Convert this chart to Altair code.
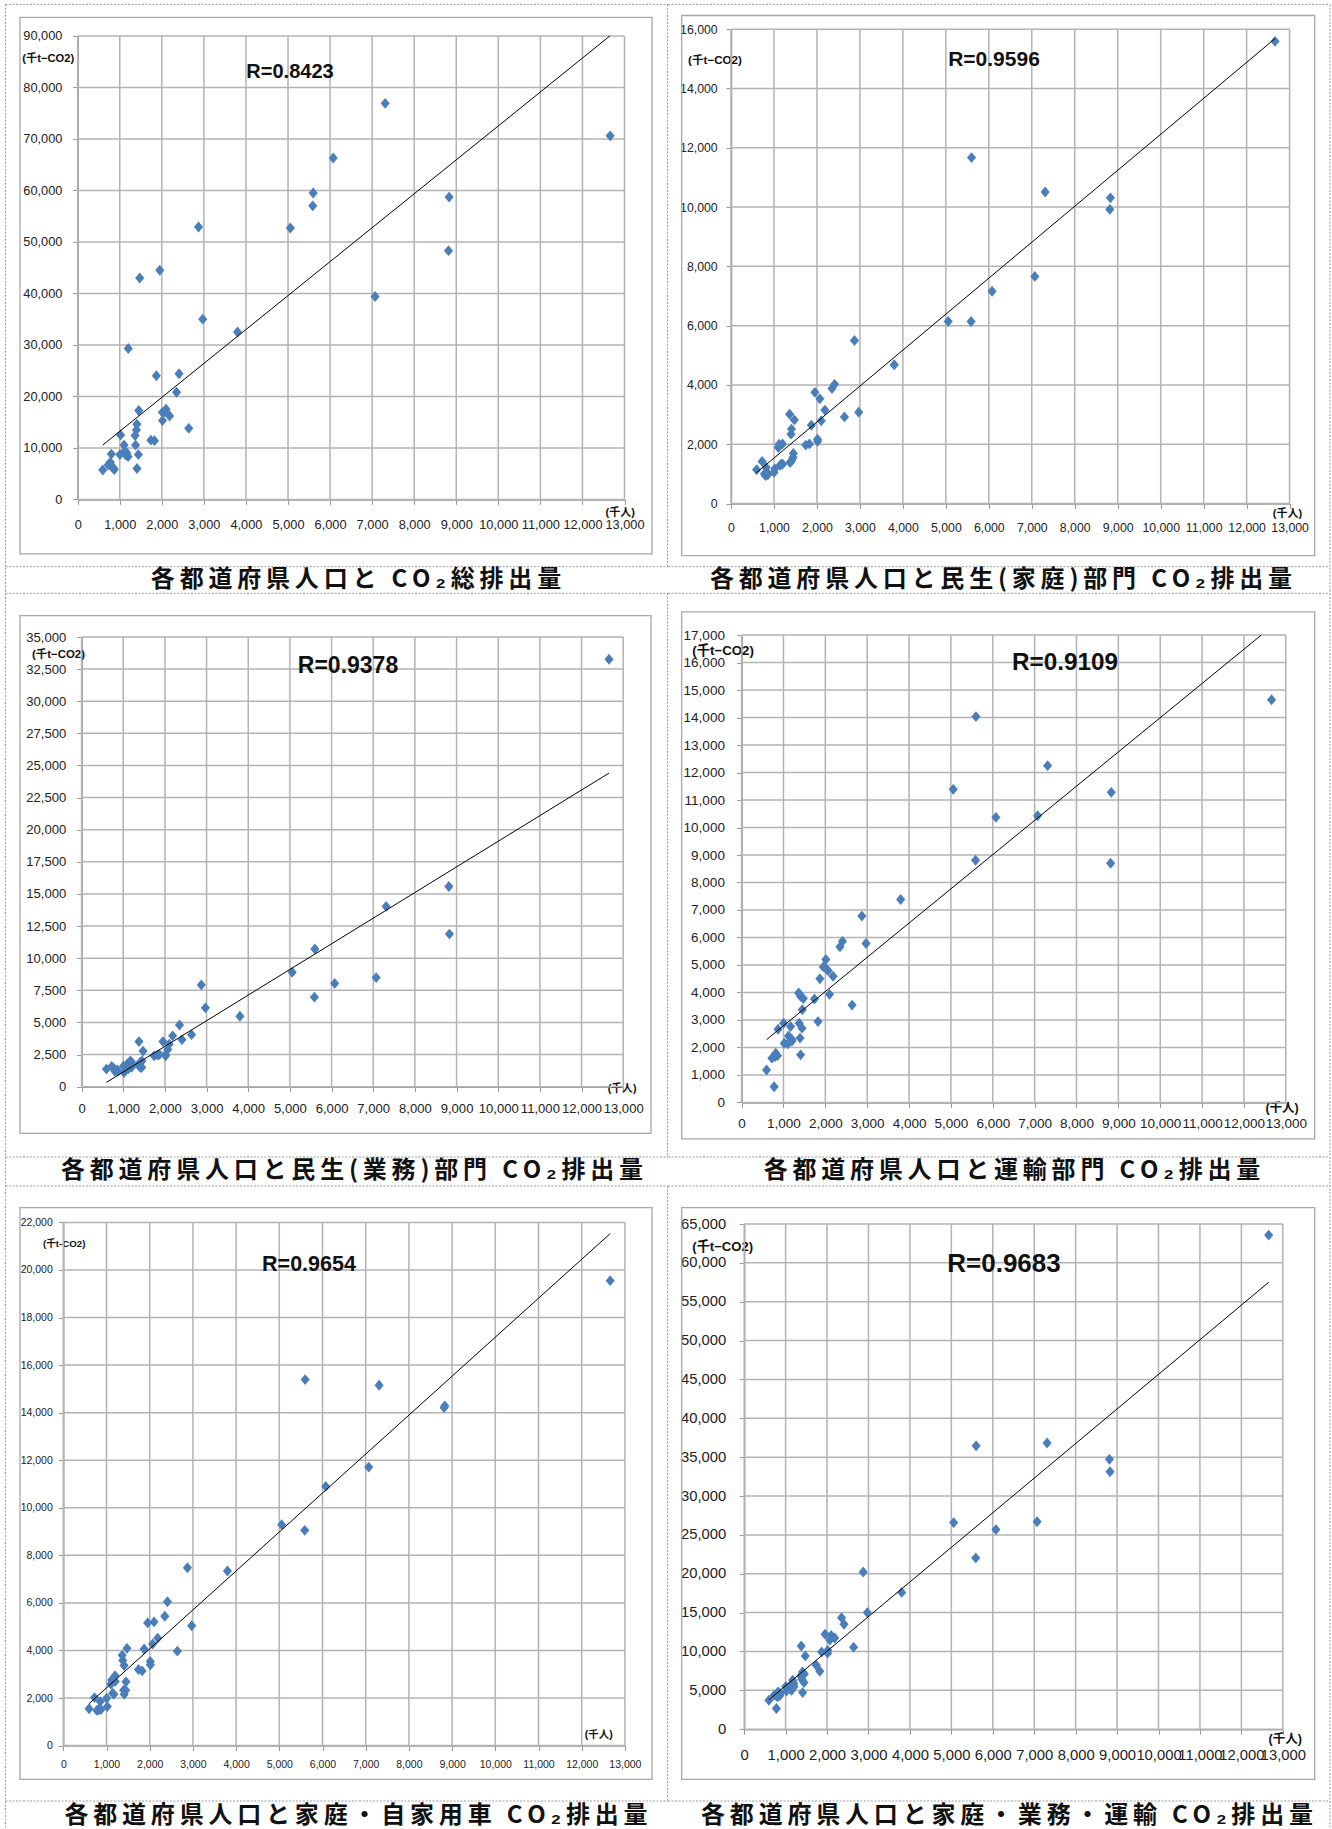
import altair as alt
import numpy as np
import pandas as pd

# ---------------------------------------------------------------- data
prefectures = ["北海道", "青森", "岩手", "宮城", "秋田", "山形", "福島", "茨城", "栃木", "群馬",
               "埼玉", "千葉", "東京", "神奈川", "新潟", "富山", "石川", "福井", "山梨", "長野",
               "岐阜", "静岡", "愛知", "三重", "滋賀", "京都", "大阪", "兵庫", "奈良", "和歌山",
               "鳥取", "島根", "岡山", "広島", "山口", "徳島", "香川", "愛媛", "高知", "福岡",
               "佐賀", "長崎", "熊本", "大分", "宮崎", "鹿児島", "沖縄"]

# population (thousand people)
population = [5598, 1407, 1364, 2350, 1121, 1198, 2067, 2972, 2013, 2016,
              7070, 6075, 12660, 8830, 2410, 1103, 1170, 816, 871, 2185,
              2100, 3800, 7310, 1870, 1396, 2640, 8815, 5588, 1410, 1019,
              596, 723, 1952, 2873, 1474, 800, 1004, 1450, 777, 5055,
              856, 1443, 1825, 1202, 1143, 1740, 1376]

# CO2 emissions (thousand t-CO2)
co2_total = [59500, 14600, 12400, 20800, 9400, 8300, 17000, 35000, 16900, 15300,
             39400, 66300, 70600, 58700, 24400, 10550, 9000, 6300, 5800, 16200,
             17500, 32500, 76900, 24000, 13500, 13800, 48300, 57000, 6000, 12500,
             5700, 6700, 44500, 52900, 43000, 8800, 8700, 17260, 7200, 52700,
             6000, 8700, 11400, 29300, 8600, 11500, 10550]

co2_household = [11670, 2510, 3010, 3880, 2000, 2010, 3530, 3080, 2170, 2100,
                 7660, 7160, 15590, 10310, 4020, 1890, 1330, 1220, 1000, 3150,
                 2790, 4680, 10510, 2640, 2340, 2920, 9920, 6140, 1450, 1170,
                 1140, 1420, 3750, 5500, 2820, 940, 1050, 1690, 1000, 6140,
                 970, 1550, 2010, 1330, 1290, 1970, 1380]

co2_commercial = [10720, 1900, 1700, 4800, 1400, 1500, 2900, 6140, 2500, 2400,
                  8490, 8040, 33270, 11880, 3660, 1800, 2000, 1300, 1200, 3960,
                  3300, 5480, 14030, 2500, 1600, 4050, 15580, 6970, 1500, 1100,
                  1370, 1580, 3510, 7920, 2770, 1200, 1600, 2000, 1400, 8910,
                  1300, 1500, 2470, 1900, 1500, 2400, 3510]

co2_transport = [14035, 3860, 3980, 5660, 2420, 2300, 4790, 5780, 5200, 4870,
                 10430, 10370, 14650, 11280, 5860, 2130, 2760, 1790, 2660, 4590,
                 3930, 7380, 12250, 4500, 2340, 3540, 8700, 8810, 1730, 2150,
                 1180, 1610, 4930, 6780, 3780, 1670, 2880, 3370, 570, 11390,
                 1700, 2700, 2940, 2230, 2200, 3760, 2880]

co2_household_car = [15390, 3370, 3800, 5440, 2760, 2940, 4270, 5040, 3540, 3400,
                     11710, 10900, 19550, 14280, 6050, 2590, 2160, 1500, 1520, 4520,
                     5200, 7340, 15150, 4060, 2330, 3970, 14210, 9050, 2160, 1640,
                     1550, 2020, 5160, 7480, 4090, 1500, 1990, 2680, 1480, 9290,
                     1850, 2330, 3140, 2700, 2200, 3200, 3580]

co2_hh_com_trans = [36460, 7370, 6850, 14350, 5660, 5870, 11470, 15000, 9780, 10150,
                    26690, 25680, 63570, 33130, 13500, 5230, 6300, 4800, 4600, 11740,
                    12080, 17600, 36830, 9940, 6400, 10540, 34720, 22040, 4710, 4900,
                    3730, 4370, 12210, 20220, 9430, 4160, 5500, 7100, 2660, 26580,
                    4300, 6000, 7460, 5500, 5000, 8230, 10710]

r_labels = ["R=0.8423", "R=0.9596", "R=0.9378", "R=0.9109", "R=0.9654", "R=0.9683"]
y_max = [90000, 16000, 35000, 17000, 22000, 65000]
y_step = [10000, 2000, 2500, 1000, 2000, 5000]
x_max = 13000
x_ticks = list(range(0, x_max + 1, 1000))

captions = ["各都道府県人口と CO₂総排出量",
            "各都道府県人口と民生(家庭)部門 CO₂排出量",
            "各都道府県人口と民生(業務)部門 CO₂排出量",
            "各都道府県人口と運輸部門 CO₂排出量",
            "各都道府県人口と家庭・自家用車 CO₂排出量",
            "各都道府県人口と家庭・業務・運輸 CO₂排出量"]

y_units = ["(千t−CO2)", "(千t−CO2)", "(千t−CO2)", "(千t−CO2)", "(千t-CO2)", "(千t−CO2)"]
x_unit = "(千人)"

series = [co2_total, co2_household, co2_commercial,
          co2_transport, co2_household_car, co2_hh_com_trans]

# ---------------------------------------------------------------- styling
NUM_FONT = "Liberation Sans Narrow, Arial Narrow, Liberation Sans, Noto Sans CJK JP, sans-serif"
JP_FONT = "Noto Sans CJK JP, sans-serif"
BLUE = "#4a7ebb"
GRID = "#b3b3b3"
AXIS = "#999999"
FRAME = "#a8a8a8"
DASH = "#9a9a9a"
DIAMOND = "M0,-1L0.84,0L0,1L-0.84,0Z"

# each cell of the 2x3 page grid: size, plot rectangle inside it, text placement
cells = [
    dict(w=668, h=590, x0=77.7, x1=624.5, yt=35.9, yb=499.4,
         fs=12.8, ylp=10.8, xlp=13.8, ufs=11.2, ux=-30, uy=58.9, kfs=11, kx=619.7, ky=13,
         rfs=20, rx=290, ry=72, cap=(356, 580), frame=(20, 17.4, 652, 553.8)),
    dict(w=664, h=590, x0=63, x1=621.6, yt=29.2, yb=503.5,
         fs=12.3, ylp=8.8, xlp=12.5, ufs=11.6, ux=-16.5, uy=60.2, kfs=11, kx=619, ky=10,
         rfs=21, rx=326, ry=60.3, cap=(333, 580), frame=(13.7, 15.5, 646.7, 555.7)),
    dict(w=668, h=595, x0=81.6, x1=623.2, yt=47, yb=496.7,
         fs=13.1, ylp=10.8, xlp=10.7, ufs=11.4, ux=-23.6, uy=64.7, kfs=10.8, kx=621.6, ky=1.6,
         rfs=23, rx=348, ry=76, cap=(352, 581), frame=(20, 25.6, 651, 543.4)),
    dict(w=664, h=595, x0=73.6, x1=617.8, yt=45.1, yb=512.4,
         fs=13.5, ylp=12.2, xlp=9.1, ufs=13.3, ux=-19, uy=60.8, kfs=12.5, kx=613.6, ky=5,
         rfs=24.3, rx=397, ry=73.4, cap=(344, 581), frame=(13.7, 21.8, 646.7, 548.8)),
    dict(w=668, h=644, x0=63.3, x1=624.9, yt=37.4, yb=560.6,
         fs=10.5, ylp=6, xlp=9.2, ufs=9.7, ux=0.4, uy=58.7, kfs=10.5, kx=598.3, ky=-11,
         rfs=21.5, rx=309, ry=80, cap=(356, 631), frame=(20, 22.6, 652, 594.3)),
    dict(w=664, h=644, x0=76.2, x1=614.8, yt=39, yb=544.2,
         fs=14.8, ylp=13.5, xlp=13.5, ufs=13.1, ux=-22, uy=61.6, kfs=12.5, kx=616.7, ky=8.8,
         rfs=26, rx=336, ry=79.3, cap=(339, 631), frame=(13.7, 22.6, 646.7, 594.3)),
]

# dashed table rules, in cell pixels: horizontal (y, x_from, x_to) and vertical (x, y_from, y_to)
dash_h = {
    0: [(4.4, 5.5, 668), (566.7, 5.5, 668)], 1: [(4.4, 0, 662), (566.7, 0, 662)],
    2: [(3.3, 5.5, 668), (567, 5.5, 668)], 3: [(3.3, 0, 662), (567, 0, 662)],
    4: [(1, 5.5, 668), (616, 5.5, 668)], 5: [(1, 0, 662), (616, 0, 662)],
}
dash_v = {
    0: [(5.5, 4.4, 590), (667.5, 4.4, 566.7)], 1: [(662, 4.4, 590)],
    2: [(5.5, 0, 595), (667.5, 3.3, 567)], 3: [(662, 0, 595)],
    4: [(5.5, 0, 643), (667.5, 1, 616)], 5: [(662, 0, 643)],
}

one = pd.DataFrame({"s": [0]})


def spaced(text):
    return "\u2009".join(text)


def cell_chart(i):
    c = cells[i]
    ymax = y_max[i]
    y_ticks = list(range(0, ymax + 1, y_step[i]))

    common = dict(labelFont=NUM_FONT, labelColor="#222", labelFlush=False,
                  labelOverlap=False, tickSize=5, tickColor=AXIS, tickWidth=1,
                  domainColor=AXIS, domainWidth=1.5, grid=False, format=",d",
                  titleAngle=0, titleAlign="center", titleBaseline="middle",
                  titleFont=NUM_FONT, titleFontWeight="bold", titleColor="#111")
    sx = alt.Scale(domain=[0, x_max], range=[c["x0"], c["x1"]], nice=False)
    sy = alt.Scale(domain=[0, ymax], range=[c["yb"], c["yt"]], nice=False)
    X = alt.X("pop:Q", scale=sx,
              axis=alt.Axis(values=x_ticks, offset=-(c["h"] - c["yb"]), labelFontSize=c["fs"],
                            labelPadding=c["xlp"], title=x_unit, titleFontSize=c["kfs"],
                            titleX=c["kx"], titleY=c["ky"], **common))
    Y = alt.Y("co2:Q", scale=sy,
              axis=alt.Axis(values=y_ticks, offset=-c["x0"], labelFontSize=c["fs"],
                            labelPadding=c["ylp"], title=y_units[i], titleFontSize=c["ufs"],
                            titleX=c["ux"], titleY=c["uy"], **common))

    # gridlines at every tick value
    vgrid = pd.DataFrame({"pop": x_ticks, "co2": 0, "co2_end": ymax})
    hgrid = pd.DataFrame({"co2": y_ticks, "pop": 0, "pop_end": x_max})
    grid_v = alt.Chart(vgrid).mark_rule(color=GRID, strokeWidth=1.5).encode(
        x=X, y=Y, y2="co2_end:Q")
    grid_h = alt.Chart(hgrid).mark_rule(color=GRID, strokeWidth=1.5).encode(
        x=X, x2="pop_end:Q", y=Y)

    # linear trend line over the population range, cut at the top of the plot
    slope, icpt = np.polyfit(population, series[i], 1)
    x_start = min(population)
    x_end = min(max(population), (ymax - icpt) / slope)
    fit_df = pd.DataFrame({"pop": [x_start, x_end],
                           "co2": [slope * x_start + icpt, slope * x_end + icpt]})
    fit = alt.Chart(fit_df).mark_line(color="black", strokeWidth=1).encode(x=X, y=Y)

    df = pd.DataFrame({"pref": prefectures, "pop": population, "co2": series[i]})
    pts = alt.Chart(df).mark_point(shape=DIAMOND, filled=True, size=118, color=BLUE,
                                   opacity=1).encode(x=X, y=Y)

    rtxt = alt.Chart(pd.DataFrame({"r": [r_labels[i]]})).mark_text(
        font=NUM_FONT, fontSize=c["rfs"], fontWeight="bold", color="#111",
        align="center", baseline="middle").encode(
        text="r:N", x=alt.value(c["rx"]), y=alt.value(c["ry"]))

    # chart frame, dashed table rules and caption
    fx1, fy1, fx2, fy2 = c["frame"]
    deco = [alt.Chart(one).mark_rect(fillOpacity=0, stroke=FRAME, strokeWidth=1.3).encode(
        x=alt.value(fx1), x2=alt.value(fx2), y=alt.value(fy1), y2=alt.value(fy2))]
    for yy, xa, xb in dash_h[i]:
        deco.append(alt.Chart(one).mark_rule(color=DASH, strokeWidth=1, strokeDash=[2, 1.5]).encode(
            x=alt.value(xa), x2=alt.value(xb), y=alt.value(yy)))
    for xx, ya, yb in dash_v[i]:
        deco.append(alt.Chart(one).mark_rule(color=DASH, strokeWidth=1, strokeDash=[2, 1.5]).encode(
            x=alt.value(xx), y=alt.value(ya), y2=alt.value(yb)))
    cx, cy = c["cap"]
    cap = alt.Chart(one).mark_text(text=spaced(captions[i]), font=JP_FONT, fontSize=24,
                                   fontWeight="bold", color="#111", align="center",
                                   baseline="middle").encode(x=alt.value(cx), y=alt.value(cy))

    return alt.layer(grid_v, grid_h, *deco, pts, fit, rtxt, cap).properties(
        width=c["w"], height=c["h"])


chart = alt.concat(*[cell_chart(i) for i in range(6)], columns=2, spacing=0,
                   align="each", bounds="flush").properties(
    padding=0, background="white").configure_view(stroke=None)

chart.save("out.html", embed_options={"renderer": "svg", "actions": False})
